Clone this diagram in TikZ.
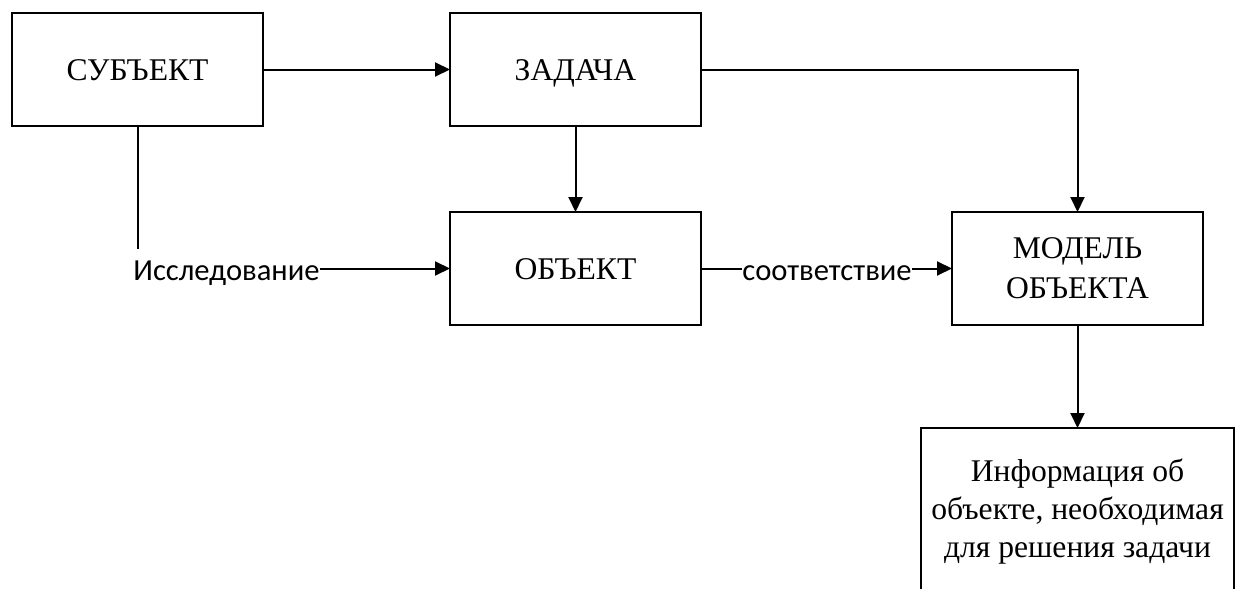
\documentclass[tikz,border=0pt]{standalone}
\usepackage{fontspec}
\setmainfont{Liberation Serif}
\newfontfamily\lblfont{Carlito}
\usetikzlibrary{arrows.meta}
\tikzset{
  boxnode/.style={draw, line width=0.7pt, rectangle, minimum width=125.5pt, minimum height=56.5pt,
    inner sep=0pt, outer sep=0pt, align=center, font=\fontsize{15.8}{20}\selectfont},
  onebox/.style={boxnode, text height=11pt, text depth=0pt},
  lblnode/.style={inner xsep=0pt, inner ysep=4pt, outer sep=0pt, text height=12pt, text depth=0pt,
    font=\lblfont\fontsize{15.3}{18}\selectfont},
  conn/.style={line width=1pt},
  arr/.style={conn, -{Triangle[length=7.5pt,width=7pt]}}
}
\begin{document}
\begin{tikzpicture}[x=0.5pt,y=-0.5pt]
\useasboundingbox (0,0) rectangle (1239,589);
\clip (0,0) rectangle (1239,589);
\node[onebox] (subj) at (137.5,69.5) {СУБЪЕКТ};
\node[onebox] (task) at (575.5,69.5) {ЗАДАЧА};
\node[onebox] (obj) at (575.5,268.5) {ОБЪЕКТ};
\node[boxnode] (model) at (1077.5,268.5) {МОДЕЛЬ\\ОБЪЕКТА};
\node[boxnode, minimum width=156.5pt, minimum height=84pt, font=\fontsize{15.8}{19}\selectfont] (info) at (1077.5,512) {Информация об\\объекте, необходимая\\для решения задачи};
\node[lblnode] (isl) at (226.5,268.5) {Исследование};
\node[lblnode] (corr) at (827,268.5) {соответствие};
\draw[arr] (subj.east) -- (task.west);
\draw[conn] (subj.south) -- (subj.south |- isl.north);
\draw[arr] (isl.east) -- (obj.west);
\draw[arr] (task.south) -- (obj.north);
\draw[conn] (obj.east) -- (corr.west);
\draw[arr] (corr.east) -- (model.west);
\draw[arr] (task.east) -| (model.north);
\draw[arr] (model.south) -- (info.north);
\end{tikzpicture}
\end{document}
